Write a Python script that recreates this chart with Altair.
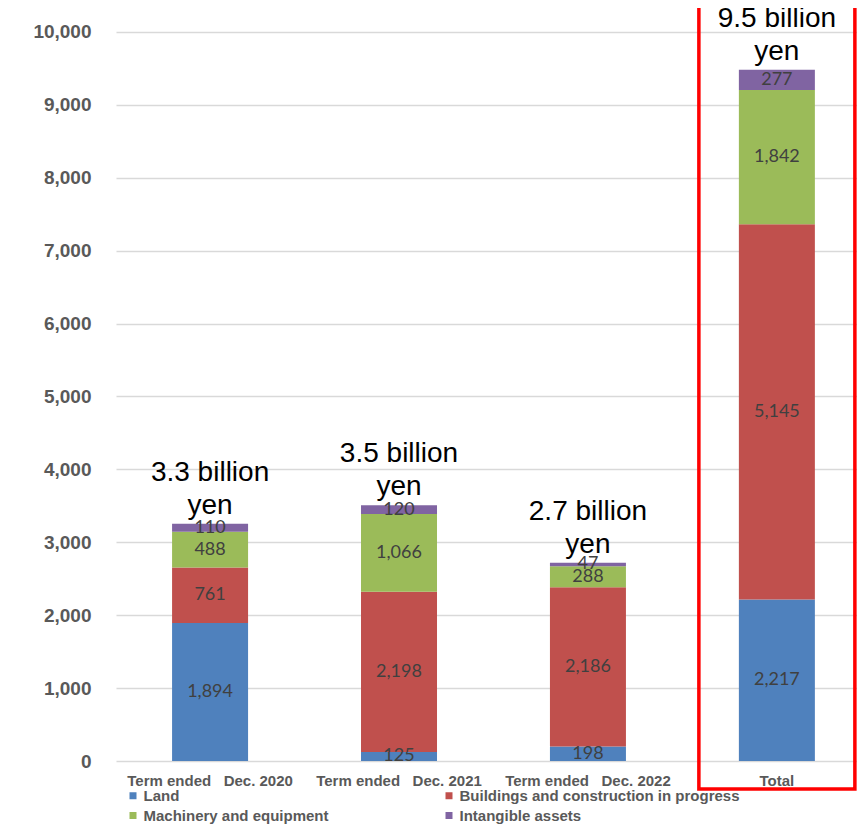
import altair as alt
import pandas as pd

categories = ["Term ended   Dec. 2020", "Term ended   Dec. 2021", "Term ended   Dec. 2022", "Total"]
series = ["Land", "Buildings and construction in progress", "Machinery and equipment", "Intangible assets"]
colors = ["#4F81BD", "#C0504D", "#9BBB59", "#8064A2"]
land = [1894, 125, 198, 2217]
buildings = [761, 2198, 2186, 5145]
machinery = [488, 1066, 288, 1842]
intangible = [110, 120, 47, 277]
total_labels = ["3.3 billion\nyen", "3.5 billion\nyen", "2.7 billion\nyen", "9.5 billion\nyen"]

rows = []
for i, c in enumerate(categories):
    for j, (s, vals) in enumerate(zip(series, [land, buildings, machinery, intangible])):
        rows.append({"cat": c, "series": s, "order": j, "value": vals[i]})
df = pd.DataFrame(rows)

tot = pd.DataFrame({
    "cat": categories,
    "total": [a + b + c + d for a, b, c, d in zip(land, buildings, machinery, intangible)],
    "label": total_labels,
})

# legend is laid out column-first: order entries so rows read Land | Buildings, Machinery | Intangible
legend_order = [series[0], series[2], series[1], series[3]]
legend_colors = [colors[0], colors[2], colors[1], colors[3]]

xscale = alt.Scale(domain=categories, paddingInner=0.598, paddingOuter=0.26, align=0.571)
xax = alt.Axis(title=None, labelAngle=0, labelFont="Liberation Sans", labelFontWeight="bold",
               labelFontSize=15, labelColor="#595959", labelPadding=12, labelLimit=0,
               labelOverlap=False, domain=False, ticks=False, grid=False,
               labelExpr="replace(datum.label, / /g, '\u00a0')")
yscale = alt.Scale(domain=[0, 10329], nice=False)
yax = alt.Axis(title=None, values=list(range(0, 10001, 1000)), format=",d", labelFont="Liberation Sans",
               labelFontWeight="bold", labelFontSize=19, labelColor="#595959", labelPadding=25,
               ticks=False, domain=False, gridColor="#d9d9d9", gridWidth=1.5)

bars = alt.Chart(df).mark_bar(size=76).encode(
    x=alt.X("cat:N", scale=xscale, axis=xax, sort=categories),
    y=alt.Y("value:Q", stack="zero", scale=yscale, axis=yax),
    color=alt.Color("series:N", scale=alt.Scale(domain=legend_order, range=legend_colors),
                    legend=alt.Legend(title=None, orient="none", legendX=9.5, legendY=780,
                                      columns=2, columnPadding=112, rowPadding=4,
                                      symbolType="square", symbolSize=49, symbolStrokeWidth=0,
                                      labelFont="Liberation Sans", labelFontWeight="bold",
                                      labelFontSize=15, labelColor="#595959", labelLimit=0,
                                      labelOffset=3)),
    order=alt.Order("order:Q"),
)

seg_text = alt.Chart(df).transform_stack(
    stack="value", groupby=["cat"], as_=["y0", "y1"], sort=[alt.SortField("order")]
).transform_calculate(
    mid="(datum.y0 + datum.y1) / 2", txt="format(datum.value, ',d')"
).mark_text(font="Lato", fontSize=18, color="#404040").encode(
    x=alt.X("cat:N", scale=xscale, sort=categories),
    y=alt.Y("mid:Q", scale=yscale),
    text="txt:N",
)

tot_text = alt.Chart(tot).mark_text(font="Liberation Sans", fontSize=28, color="#000000",
                                    baseline="bottom", dy=-37, lineHeight=33, lineBreak="\n").encode(
    x=alt.X("cat:N", scale=xscale, sort=categories),
    y=alt.Y("total:Q", scale=yscale),
    text="label:N",
)

box = alt.Chart(pd.DataFrame({"cat": ["Total"]})).mark_rect(
    filled=False, stroke="#FF0000", strokeWidth=3.5, width=156, clip=False
).encode(
    x=alt.X("cat:N", scale=xscale, sort=categories),
    y=alt.value(-10),
    y2=alt.value(781),
)

chart = alt.layer(bars, seg_text, tot_text, box).properties(
    width=741, height=753,
    autosize=alt.AutoSizeParams(type="none"),
    padding={"left": 108, "top": 0, "right": 0, "bottom": 64},
).configure_view(stroke=None)

chart.save("out.html", embed_options={"renderer": "svg", "actions": False})
